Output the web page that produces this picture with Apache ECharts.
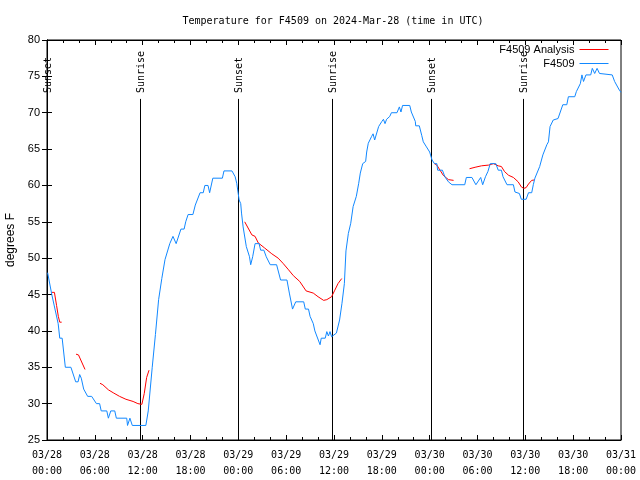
<!DOCTYPE html>
<html><head><meta charset="utf-8">
<script src="https://cdn.jsdelivr.net/npm/echarts@6/dist/echarts.min.js"></script>
<style>html,body{margin:0;padding:0;background:#fff}#c{width:640px;height:480px}</style>
</head><body><div id="c"></div>
<script>
// hours since 2024-03-28 00:00 UTC
const xTickLabels = ['03/28\n00:00','03/28\n06:00','03/28\n12:00','03/28\n18:00','03/29\n00:00','03/29\n06:00','03/29\n12:00','03/29\n18:00','03/30\n00:00','03/30\n06:00','03/30\n12:00','03/30\n18:00','03/31\n00:00'];

const blueTimes = [0.08,0.6,1.4,1.6,1.9,2.3,3.0,3.6,3.9,4.1,4.3,4.6,5.1,5.6,6.2,6.6,6.8,7.5,7.7,8.0,8.5,8.7,10.0,10.1,10.4,10.7,12.4,12.7,13.2,13.6,14.0,14.4,14.8,15.4,15.8,16.2,16.8,17.2,17.4,17.7,18.3,18.6,19.2,19.6,19.8,20.2,20.4,20.8,22.0,22.2,23.2,23.6,23.8,24.1,24.3,24.4,24.6,25.0,25.4,25.55,25.8,26.1,26.6,26.8,27.2,27.5,28.0,28.8,29.3,30.1,30.4,30.8,31.2,32.2,32.4,32.8,33.0,33.4,33.6,34.25,34.4,34.9,35.1,35.3,35.5,35.7,35.9,36.3,36.7,37.0,37.3,37.5,37.8,38.1,38.4,38.8,39.1,39.3,39.6,39.97,40.1,40.3,40.7,40.9,41.1,41.6,42.0,42.2,42.4,42.6,43.0,43.2,43.9,44.2,44.4,44.6,45.5,45.7,46.2,46.25,46.7,47.0,47.2,47.6,48.0,48.3,48.6,48.9,49.0,49.6,49.9,50.35,50.8,52.4,52.6,53.3,53.8,54.4,54.65,54.8,55.0,55.3,55.6,56.3,56.6,57.0,57.2,57.7,58.5,58.7,59.25,59.5,60.1,60.4,60.8,61.0,61.2,61.4,61.8,62.2,62.7,62.9,63.1,63.5,64.1,64.7,65.2,65.4,66.2,66.4,66.9,67.1,67.3,67.6,68.2,68.4,68.7,69.0,69.3,69.5,70.9,71.2,71.8,72.0];
const blueTemps = [48,45,41,39,39,35,35,33,33,34,33.5,32,31,31,30,30,29,29,28,29,29,28,28,27,28,27,27,29,35,39.5,44.3,47.2,49.8,52,53,52,54,54,55,56,56,57.3,59,59,60,60,59,61,61,62,62,61.2,60.3,58,57.5,56.2,54.3,51.6,50.2,49.1,50.2,52,52,51.1,51.1,50.2,49.1,49.1,47,47,45.2,43,44,44,43,43,42,41,40,38.1,39,39,39.9,39.3,39.9,39.2,39,39.7,41.5,43.8,46.5,51,53.4,54.8,57.1,58.5,60.3,61.7,63,63.3,64.6,65.8,66.7,67.1,66.25,68.1,68.8,69.1,68.5,69.1,69.5,70,70,70.8,70.1,71,71,70.1,68.8,68.2,68.2,66.9,66,65.3,64.6,63.5,63,63,62.1,62.1,61.2,60.5,60.1,60.1,61.1,61.1,60.1,61.1,60.1,60.1,61.2,61.9,63,63,62.1,62.1,61.2,60.1,60.1,59.1,58.9,58.1,58.1,59,59,60.1,61,61,62.6,64.2,65.6,66,68.1,69,69.2,71.1,71.1,72.2,72.2,72.9,74,75.2,74.3,75.2,75.2,76.1,75.4,76.1,75.4,75.2,75.2,74.3,73.1,72.8];

// null temperature = gap in the analysis line
const redTimes = [0.59,0.93,1.2,1.42,1.6,1.84, 2.7, 3.64,3.95,4.77, 5.7, 6.65,7.0,7.7,8.3,9.1,9.9,10.8,11.4,11.9,12.2,12.5,12.8, 18, 24.8,25.7,26.1,26.5,27.3,28.2,29.0,29.6,30.3,30.9,31.7,32.5,33.4,34.0,34.7,35.1,35.7,36.1,36.5,36.97, 42, 48.6,48.9,49.3,49.7,50.35,51.0, 52, 53.0,53.7,54.5,55.4,56.0,56.6,57.0,57.4,57.9,58.5,59.1,59.5,59.8,60.1,60.4,60.8,61.1];
const redTemps = [45.3,45.3,43.5,42,41.2,41.2, null, 36.8,36.7,34.7, null, 32.8,32.6,31.9,31.5,31.0,30.6,30.3,30.0,29.9,31.4,33.6,34.6, null, 55,53.2,53,52.1,51.4,50.6,50,49.3,48.4,47.6,46.8,45.5,45.2,44.7,44.2,44.3,44.7,45.6,46.5,47.2, null, 63,62.8,62.1,61.4,60.8,60.7, null, 62.3,62.5,62.7,62.8,63,62.7,62.6,61.9,61.4,61.1,60.5,59.8,59.6,59.7,60.2,60.7,60.75];

const sunTimes = [0.05, 11.7, 23.95, 35.8, 48.2, 59.75];
const sunNames = ['Sunset','Sunrise','Sunset','Sunrise','Sunset','Sunrise'];
const sunLineTopTemp = 71.9;
const sunLabelBaseTemp = 72.7;

const zip = (a, b) => a.map((v, i) => [v, b[i]]);
const monoFont = 'DejaVu Sans Mono';
const sansFont = 'Liberation Sans';

const chart = echarts.init(document.getElementById('c'), null, {renderer: 'canvas'});
const axisCommon = {
  type: 'value', min: 0, max: 72, interval: 6,
  axisLine: {show: true, lineStyle: {color: '#000', width: 1}},
  axisTick: {show: true, inside: true, length: 5, lineStyle: {color: '#000'}},
  minorTick: {show: true, splitNumber: 3, length: 3, lineStyle: {color: '#000'}},
  splitLine: {show: false}
};
chart.setOption({
  animation: false,
  backgroundColor: '#fff',
  title: {
    text: 'Temperature for F4509 on 2024-Mar-28 (time in UTC)',
    left: 333, top: 16, padding: 0, textAlign: 'center',
    textStyle: {fontFamily: monoFont, fontSize: 10, fontWeight: 'normal', color: '#000'}
  },
  legend: {
    data: ['F4509 Analysis', 'F4509'],
    orient: 'vertical', right: 31, top: 44, padding: 0,
    align: 'right', itemWidth: 29, itemHeight: 10, itemGap: 3,
    itemStyle: {opacity: 0},
    lineStyle: {width: 1},
    textStyle: {fontFamily: sansFont, fontSize: 11, color: '#000'}
  },
  grid: {left: 47, right: 19, top: 40, bottom: 40, show: true, borderColor: '#000', borderWidth: 1,
         outerBoundsMode: 'none', containLabel: false},
  xAxis: [
    Object.assign({}, axisCommon, {
      position: 'bottom',
      axisLabel: {
        margin: 7, fontFamily: monoFont, fontSize: 10, lineHeight: 16, color: '#000',
        formatter: v => xTickLabels[Math.round(v / 6)]
      }
    }),
    Object.assign({}, axisCommon, {position: 'top', axisLabel: {show: false}})
  ],
  yAxis: [
    {
      type: 'value', min: 25, max: 80, interval: 5, position: 'left',
      name: 'degrees F', nameLocation: 'middle', nameGap: 30, nameRotate: 90,
      nameTextStyle: {fontFamily: sansFont, fontSize: 12, color: '#000'},
      axisLine: {show: true, lineStyle: {color: '#000'}},
      axisTick: {show: true, inside: true, length: 5, lineStyle: {color: '#000'}},
      axisLabel: {margin: 7, fontFamily: sansFont, fontSize: 11, color: '#000'},
      splitLine: {show: false}
    },
    {
      type: 'value', min: 25, max: 80, interval: 5, position: 'right',
      axisLine: {show: true, lineStyle: {color: '#000'}},
      axisTick: {show: true, inside: true, length: 5, lineStyle: {color: '#000'}},
      axisLabel: {show: false},
      splitLine: {show: false}
    }
  ],
  series: [
    {
      type: 'custom', name: 'sun', silent: true, z: 1,
      data: sunTimes.map(t => [t, sunLabelBaseTemp]),
      renderItem: (params, api) => {
        const t = api.value(0);
        const p0 = api.coord([t, 25]);
        const p1 = api.coord([t, sunLineTopTemp]);
        const pt = api.coord([t, sunLabelBaseTemp]);
        const x = Math.round(p0[0]) + 0.5;
        return {
          type: 'group',
          children: [
            {type: 'line', shape: {x1: x, y1: p0[1], x2: x, y2: p1[1]}, style: {stroke: '#000', lineWidth: 1}},
            {type: 'text', x: x + 1, y: pt[1], rotation: Math.PI / 2,
             style: {text: sunNames[params.dataIndex], fill: '#000', font: '10px "' + monoFont + '"', align: 'left', verticalAlign: 'middle'}}
          ]
        };
      }
    },
    {
      type: 'line', name: 'F4509 Analysis', data: zip(redTimes, redTemps),
      symbol: 'none', connectNulls: false, z: 3,
      lineStyle: {color: '#ff0000', width: 1}, itemStyle: {color: '#ff0000'}
    },
    {
      type: 'line', name: 'F4509', data: zip(blueTimes, blueTemps),
      symbol: 'none', z: 4,
      lineStyle: {color: '#1188ff', width: 1}, itemStyle: {color: '#1188ff'}
    }
  ]
});
</script></body></html>
